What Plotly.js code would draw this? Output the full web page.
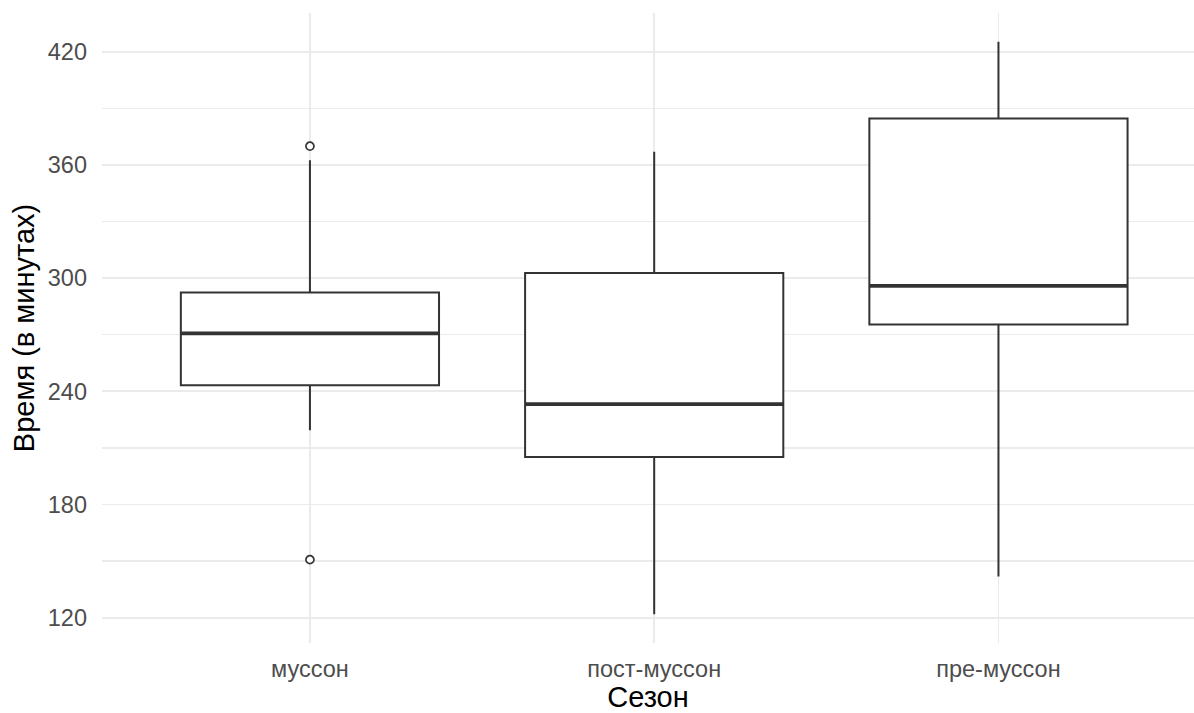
<!DOCTYPE html>
<html>
<head>
<meta charset="utf-8">
<script src="https://cdn.plot.ly/plotly-3.0.1.min.js"></script>
<style>html,body{margin:0;padding:0;background:#fff;}#chart{width:1194px;height:713px;}</style>
</head>
<body>
<div id="chart"></div>
<script>
// Data
const seasons = ["муссон", "пост-муссон", "пре-муссон"];
const lowerWhisker = [219.4, 121.8, 141.9];
const q1Values = [243.2, 205.2, 275.4];
const medianValues = [270.7, 233.2, 295.9];
const q3Values = [292.4, 302.8, 384.7];
const upperWhisker = [362.6, 367.0, 425.4];
const outlierSeason = ["муссон", "муссон"];
const outlierValues = [370.0, 150.8];
const yTickValues = [120, 180, 240, 300, 360, 420];

const boxWidth = 0.75;
const lineColor = "#333333";
const idx = seasons.map((s, i) => i);

const traces = [];
traces.push({
  type: "box",
  x: idx,
  q1: q1Values,
  median: medianValues,
  q3: q3Values,
  lowerfence: lowerWhisker,
  upperfence: upperWhisker,
  width: boxWidth,
  whiskerwidth: 0,
  fillcolor: "#ffffff",
  line: {color: lineColor, width: 2},
  boxpoints: false,
  hoverinfo: "skip",
  showlegend: false
});
// thicker median lines (ggplot fatten)
seasons.forEach((s, i) => {
  traces.push({
    type: "scatter", mode: "lines",
    x: [i - boxWidth / 2, i + boxWidth / 2],
    y: [medianValues[i], medianValues[i]],
    line: {color: lineColor, width: 3.8},
    hoverinfo: "skip", showlegend: false
  });
});
traces.push({
  type: "scatter", mode: "markers",
  x: outlierSeason.map(s => seasons.indexOf(s)),
  y: outlierValues,
  marker: {symbol: "circle", size: 8, color: "#ffffff", line: {color: lineColor, width: 1.7}},
  hoverinfo: "skip", showlegend: false
});

const tickFont = {family: "Liberation Sans, Arial, sans-serif", size: 23.5, color: "#4D4D4D"};
const titleFont = {family: "Liberation Sans, Arial, sans-serif", size: 29, color: "#000000"};

const layout = {
  width: 1194, height: 713,
  margin: {l: 102, r: 0, t: 13, b: 70},
  paper_bgcolor: "#ffffff", plot_bgcolor: "#ffffff",
  showlegend: false,
  xaxis: {
    range: [-0.604, 2.568],
    tickmode: "array", tickvals: idx, ticktext: seasons,
    showgrid: true, gridcolor: "#EBEBEB", gridwidth: 1.8,
    zeroline: false, showline: false, ticks: "",
    tickfont: tickFont, ticklabelstandoff: 9,
    title: {text: "Сезон", font: titleFont, standoff: 2},
    automargin: false, fixedrange: true
  },
  yaxis: {
    range: [106.6, 440.6],
    tickmode: "array", tickvals: yTickValues,
    showgrid: true, gridcolor: "#EBEBEB", gridwidth: 1.8,
    minor: {tickmode: "linear", tick0: 90, dtick: 30, showgrid: true, gridcolor: "#EBEBEB", gridwidth: 1.4, ticks: ""},
    zeroline: false, showline: false, ticks: "",
    tickfont: tickFont, ticklabelstandoff: 14,
    title: {text: "Время (в минутах)", font: titleFont, standoff: 4},
    automargin: false, fixedrange: true
  }
};

Plotly.newPlot("chart", traces, layout, {displayModeBar: false, staticPlot: true});
</script>
</body>
</html>
